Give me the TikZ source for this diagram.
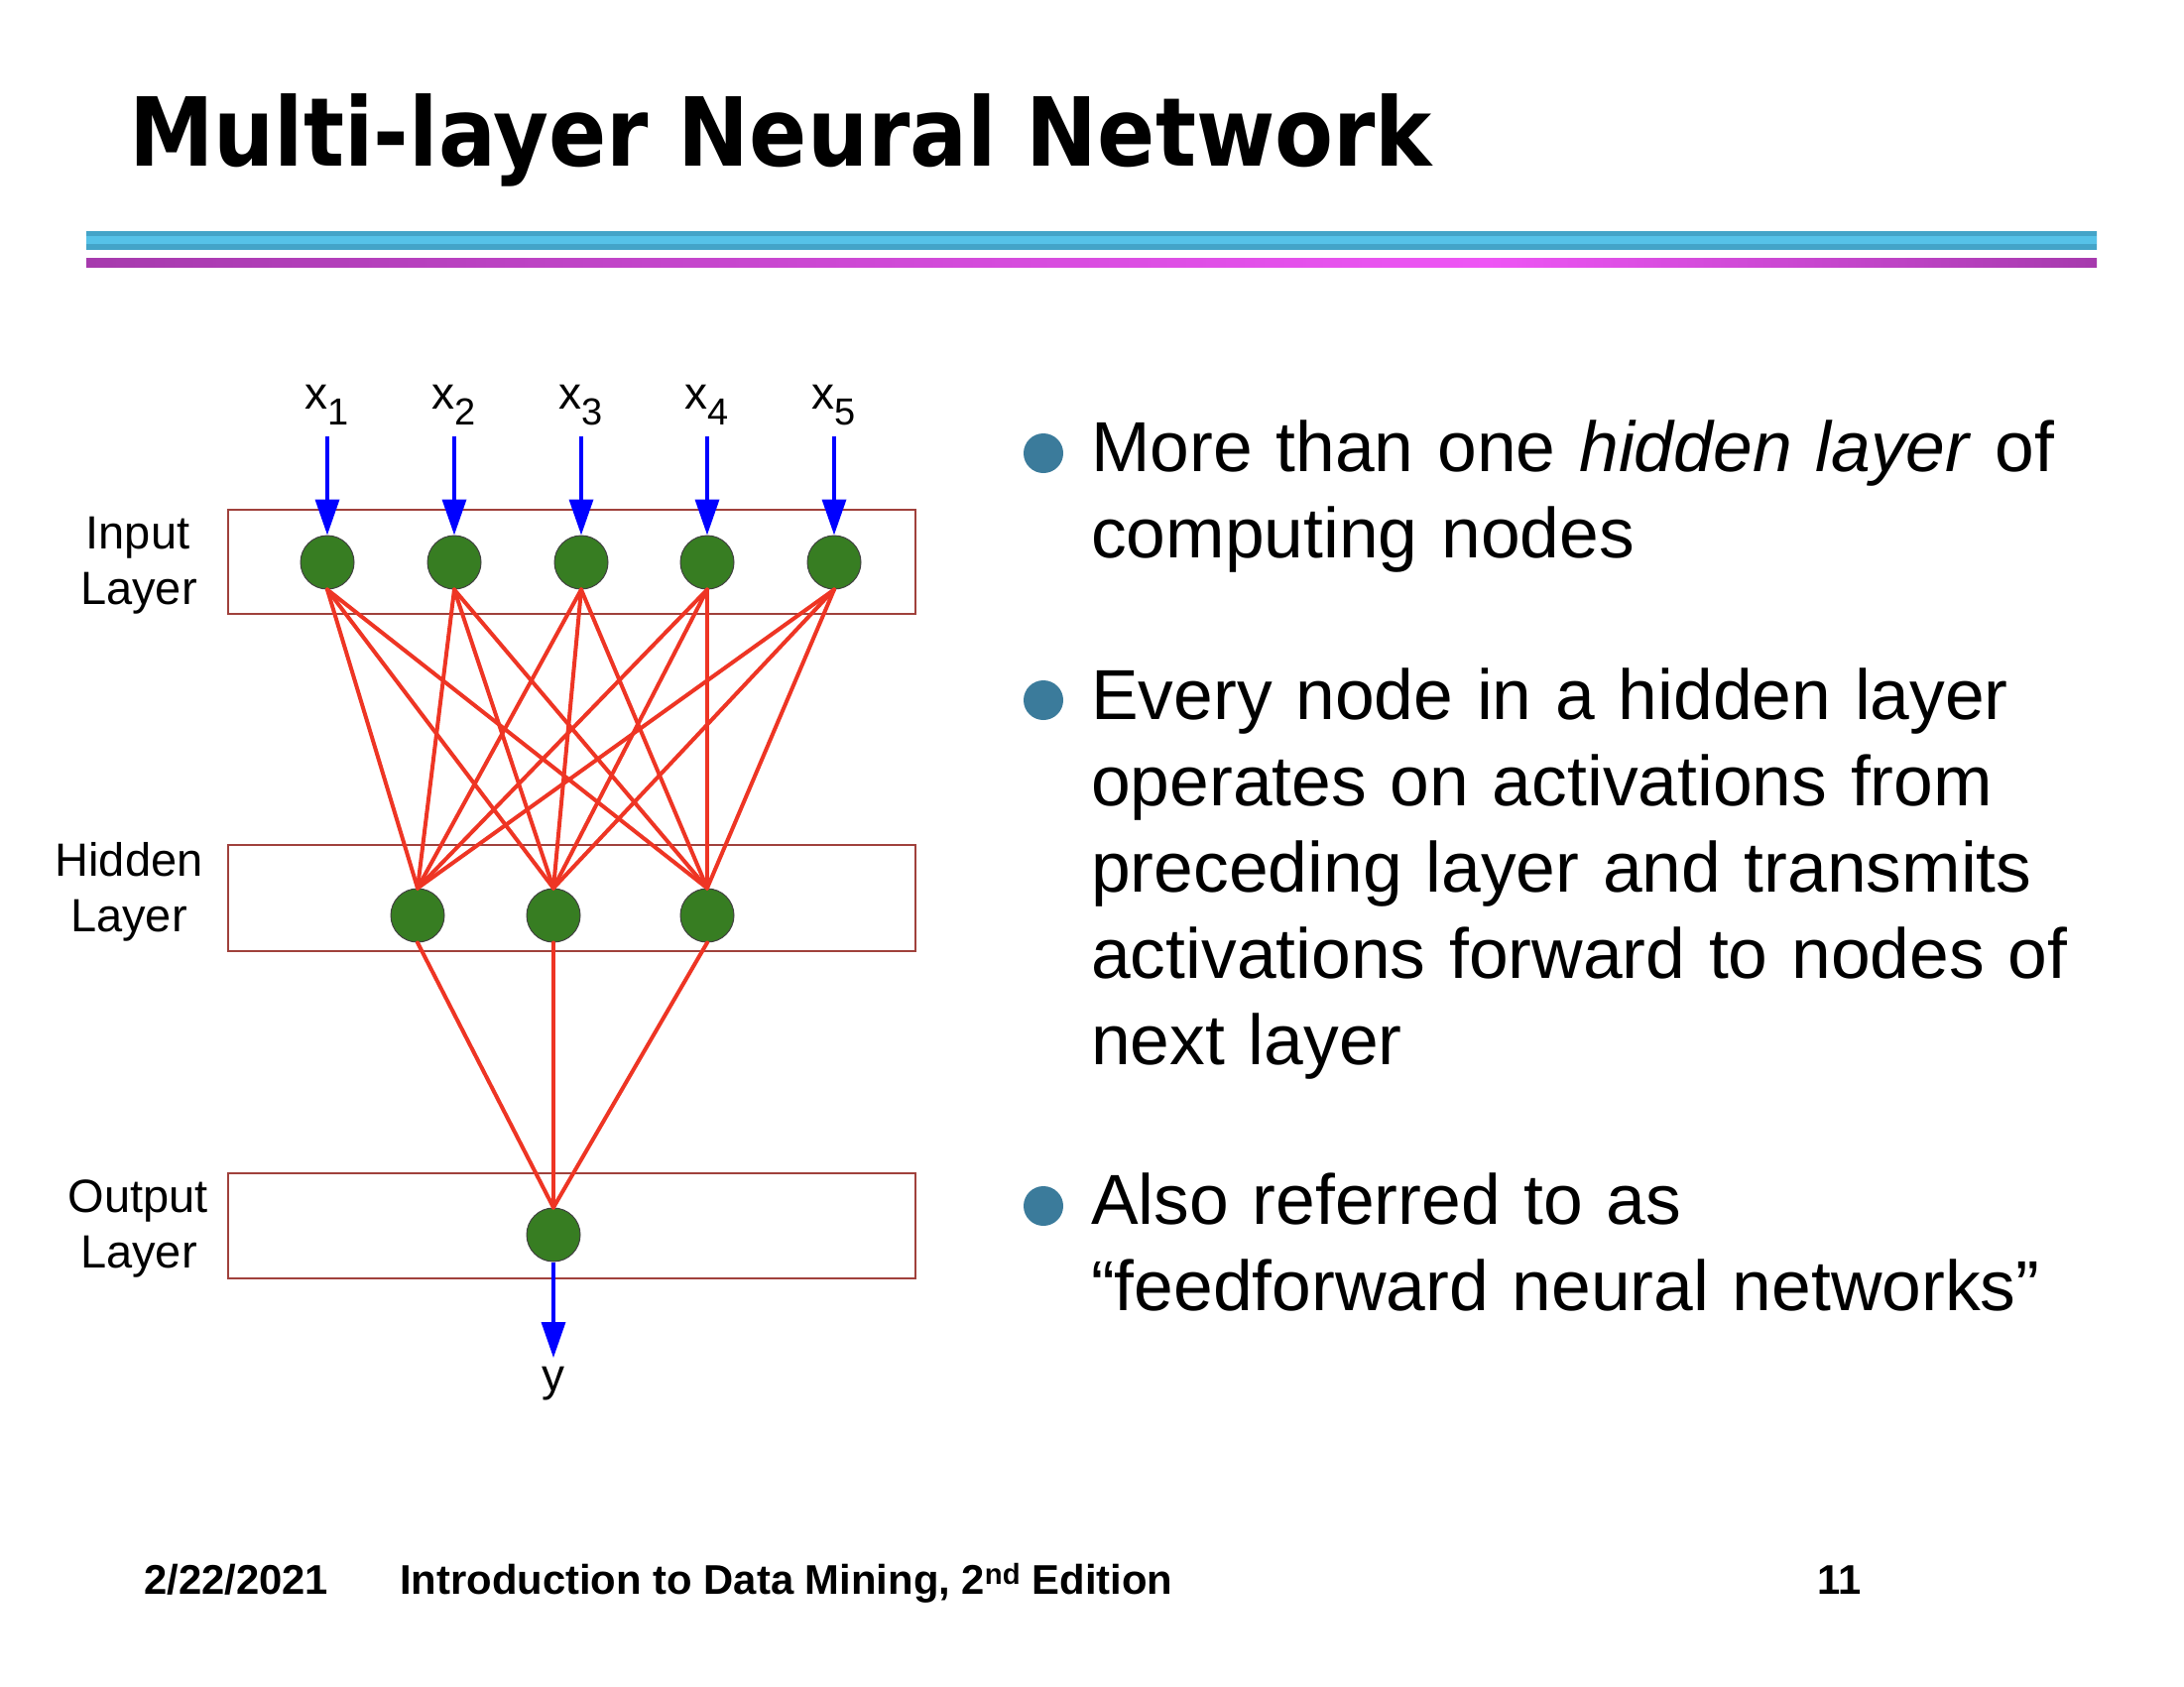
\documentclass[tikz,border=0pt]{standalone}
\usepackage{graphicx}
\usepackage{fontspec}
\setmainfont{Liberation Sans}
\newfontfamily\titlefont{DejaVu Sans}
\usetikzlibrary{arrows.meta}
\definecolor{nodegreen}{HTML}{377D22}
\definecolor{edgered}{HTML}{EE3524}
\definecolor{arrowblue}{HTML}{0000FF}
\definecolor{boxred}{HTML}{A0413C}
\definecolor{bulletblue}{HTML}{3B7B9B}
\definecolor{cyanE}{HTML}{44A4C8}
\definecolor{cyanM}{HTML}{56C2E8}
\definecolor{magL}{HTML}{A63AAD}
\definecolor{magM}{HTML}{EE55F5}
\begin{document}
\begin{tikzpicture}[x=1pt,y=-1pt,
  neuron/.style={circle, fill=nodegreen, draw=black!75, line width=1pt, minimum size=54pt, inner sep=0pt},
  edge/.style={draw=edgered, line width=4pt, line cap=round},
  inarrow/.style={draw=arrowblue, line width=3.5pt, -{Triangle[length=36pt,width=24pt]}},
  layerbox/.style={draw=boxred, line width=1.4pt, inner sep=0pt},
  lab/.style={font=\fontsize{47}{56}\selectfont, inner sep=0pt, anchor=base},
  bullettext/.style={font=\fontsize{71.4}{87}\selectfont, align=left, text width=1080pt, inner sep=0pt, anchor=base west},
  bulletdot/.style={circle, fill=bulletblue, minimum size=40pt, inner sep=0pt},
  foot/.style={font=\fontsize{41.8}{48}\selectfont\bfseries, inner sep=0pt, anchor=base west}]
\fill[white] (0,0) rectangle (2202,1700);
\useasboundingbox (0,0) rectangle (2202,1700);

% title
\node[inner sep=0pt, anchor=base west] (title) at (130,167)
  {\scalebox{0.895}[1]{\titlefont\bfseries\fontsize{96}{110}\selectfont Multi-layer Neural Network}};
% bars
\shade[top color=cyanE, middle color=cyanM, bottom color=cyanE] (87,233) rectangle (2114,251);
\fill[cyanM] (87,238) rectangle (2114,246);
\shade[left color=magL, right color=magM] (87,260) rectangle (1500,269);
\shade[left color=magM, right color=magL] (1500,260) rectangle (2114,269);

% layer boxes
\node[layerbox, minimum width=693pt, minimum height=105pt] (inbox) at (576.5,566.5) {};
\node[layerbox, minimum width=693pt, minimum height=107pt] (hidbox) at (576.5,905.5) {};
\node[layerbox, minimum width=693pt, minimum height=106pt] (outbox) at (576.5,1236) {};

% layer labels
\node[lab] (inl1) at (139,553) {Input};
\node[lab] (inl2) at (140,609) {Layer};
\node[lab] (hl1) at (130,883) {Hidden};
\node[lab] (hl2) at (130,939) {Layer};
\node[lab] (ol1) at (139.5,1222) {Output};
\node[lab] (ol2) at (140,1278) {Layer};

% neurons
\node[neuron] (i1) at (330,567) {};
\node[neuron] (i2) at (458,567) {};
\node[neuron] (i3) at (586,567) {};
\node[neuron] (i4) at (713,567) {};
\node[neuron] (i5) at (841,567) {};
\node[neuron] (h1) at (421,923) {};
\node[neuron] (h2) at (558,923) {};
\node[neuron] (h3) at (713,923) {};
\node[neuron] (o1) at (558,1245) {};

% edges
\foreach \i in {1,...,5} {
  \foreach \h in {1,2,3} {
    \draw[edge] (i\i.south) -- (h\h.north);
  }
}
\foreach \h in {1,2,3} {
  \draw[edge] (h\h.south) -- (o1.north);
}

% input labels and arrows
\foreach \i/\xx in {1/330,2/458,3/586,4/713,5/841} {
  \node[inner sep=0pt, anchor=base, font=\fontsize{46}{50}\selectfont] (x\i) at (\xx,412)
    {x\raisebox{-16pt}{\fontsize{38}{40}\selectfont\i}};
  \coordinate (a\i) at (\xx,440);
  \draw[inarrow] (a\i) -- (i\i.north);
}

% output arrow and label
\coordinate (yend) at (558,1369);
\draw[inarrow] (o1.south) -- (yend);
\node[inner sep=0pt, anchor=base, font=\fontsize{46}{50}\selectfont] (ylab) at (558,1402) {y};

% bullets
\node[bulletdot] (b1) at (1052,457) {};
\node[bulletdot] (b2) at (1052,706) {};
\node[bulletdot] (b3) at (1052,1216) {};
\node[bullettext] (t1) at (1100,475) {More than one \textit{hidden layer} of\\computing nodes};
\node[bullettext] (t2) at (1100,725) {Every node in a hidden layer\\operates on activations from\\preceding layer and transmits\\activations forward to nodes of\\next layer};
\node[bullettext] (t3) at (1100,1234) {Also referred to as\\“feedforward neural networks”};

% footer
\node[foot] (f1) at (145,1607) {2/22/2021};
\node[foot] (f2) at (403,1607) {Introduction to Data Mining, 2\textsuperscript{nd} Edition};
\node[foot] (f3) at (1832,1607) {11};
\end{tikzpicture}
\end{document}
